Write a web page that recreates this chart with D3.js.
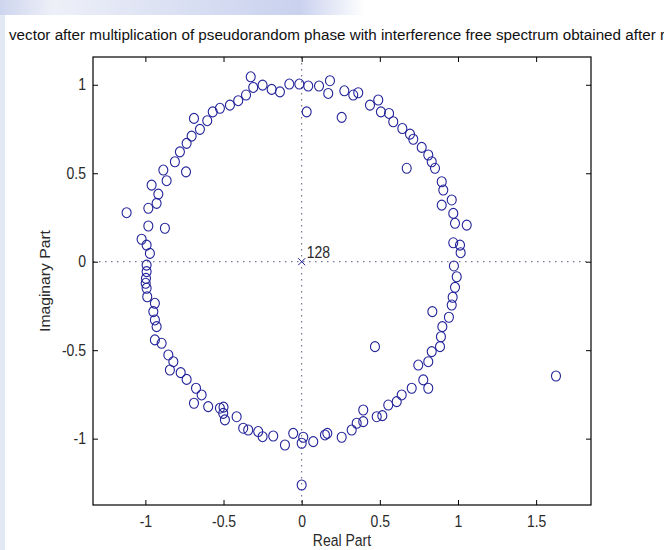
<!DOCTYPE html>
<html>
<head>
<meta charset="utf-8">
<script src="https://cdn.jsdelivr.net/npm/d3@7"></script>
<style>
  html, body { margin: 0; padding: 0; background: #fff; }
  svg { display: block; }
  text { font-family: "Liberation Sans", Arial, sans-serif; }
</style>
</head>
<body>
<svg id="chart" width="664" height="550"></svg>
<script>
// ---- data ----
const zerosRe = [
  -0.326,-0.310,-0.250,-0.192,-0.139,-0.079,-0.015,0.042,0.111,0.181,0.170,0.273,0.330,0.362,0.032,0.256,
  0.437,0.490,0.507,0.559,0.586,0.644,0.693,0.714,0.768,0.810,0.832,0.853,0.672,0.896,0.906,0.960,0.896,
  0.970,0.981,1.056,0.970,1.013,1.017,
  0.974,0.992,0.981,0.966,0.960,0.942,0.836,0.900,0.891,0.885,0.832,0.810,0.746,0.778,0.810,0.704,0.640,
  0.608,0.554,0.516,0.480,0.469,0.394,0.394,0.352,0.320,0.256,0.164,0.149,0.074,0.010,0.000,-0.054,-0.107,
  0.000,1.627,
  -0.182,-0.250,-0.278,-0.342,-0.374,-0.416,-0.491,-0.502,-0.523,-0.500,-0.598,-0.689,-0.640,-0.676,-0.736,
  -0.774,-0.843,-0.821,-0.853,-0.896,-0.939,-0.928,-0.939,-0.949,-0.939,-0.988,-0.992,-0.998,-0.996,-0.992,-0.992,
  -0.971,-0.992,-1.024,-0.981,-0.875,-1.120,-0.981,-0.928,-0.917,-0.960,-0.864,-0.885,-0.740,-0.811,-0.779,
  -0.736,-0.704,-0.651,-0.689,-0.604,-0.569,-0.523,-0.459,-0.406,-0.356
];
const zerosIm = [
  1.045,0.985,0.998,0.974,0.960,1.004,1.004,0.993,0.993,1.023,0.951,0.966,0.942,0.955,0.847,0.816,
  0.885,0.914,0.847,0.838,0.791,0.753,0.721,0.692,0.646,0.603,0.565,0.528,0.528,0.452,0.405,0.349,0.320,
  0.273,0.217,0.207,0.107,0.094,0.051,
  -0.024,-0.085,-0.145,-0.201,-0.245,-0.314,-0.282,-0.367,-0.424,-0.480,-0.508,-0.565,-0.584,-0.668,-0.715,-0.715,-0.753,
  -0.791,-0.810,-0.870,-0.876,-0.480,-0.838,-0.904,-0.913,-0.951,-0.992,-0.970,-0.979,-1.017,-0.992,-1.026,-0.970,-1.036,
  -1.262,-0.646,
  -0.985,-0.989,-0.960,-0.951,-0.941,-0.876,-0.894,-0.857,-0.828,-0.822,-0.819,-0.800,-0.753,-0.715,-0.665,
  -0.627,-0.612,-0.565,-0.527,-0.461,-0.442,-0.367,-0.329,-0.282,-0.235,-0.198,-0.150,-0.122,-0.094,-0.056,-0.019,
  0.047,0.094,0.127,0.202,0.189,0.277,0.302,0.330,0.382,0.433,0.458,0.518,0.508,0.565,0.621,
  0.669,0.710,0.748,0.810,0.797,0.847,0.867,0.885,0.910,0.942
];
const polesRe = [0];
const polesIm = [0];
const poleLabel = "128";
const xTicks = [-1, -0.5, 0, 0.5, 1, 1.5];
const yTicks = [-1, -0.5, 0, 0.5, 1];
const xDomain = [-1.335, 1.851];
const yDomain = [-1.375, 1.157];
const titleText = "vector after multiplication of pseudorandom phase with interference free spectrum obtained after r";
const xLabelText = "Real Part";
const yLabelText = "Imaginary Part";

// ---- layout ----
const W = 664, H = 550;
const L = 93, R = 591, T = 57, B = 505;
const SY = 1.12; // vertical stretch of the source image
const markerColor = "#23239a";
const textColor = "#2a2a2a";

const svg = d3.select("#chart");

// background artefacts of the source picture
const defs = svg.append("defs");
const grad = defs.append("linearGradient").attr("id", "band").attr("x1", 0).attr("x2", 1).attr("y1", 0).attr("y2", 0);
grad.append("stop").attr("offset", "0").attr("stop-color", "#cdd5ee");
grad.append("stop").attr("offset", "0.08").attr("stop-color", "#eef0f8");
grad.append("stop").attr("offset", "0.22").attr("stop-color", "#dfe4f4");
grad.append("stop").attr("offset", "0.45").attr("stop-color", "#c9d1ee");
grad.append("stop").attr("offset", "0.55").attr("stop-color", "#ffffff");
grad.append("stop").attr("offset", "1").attr("stop-color", "#ffffff");
svg.append("rect").attr("x", 0).attr("y", 0).attr("width", W).attr("height", 15).attr("fill", "url(#band)");
svg.append("rect").attr("x", 0).attr("y", 15).attr("width", 5).attr("height", H - 15).attr("fill", "#e3e8f5");

const x = d3.scaleLinear().domain(xDomain).range([L, R]);
const y = d3.scaleLinear().domain(yDomain).range([B, T]);
const fmt = d => String(d);

// dotted zero lines
const dotStyle = sel => sel.attr("stroke", "#55557a").attr("stroke-width", 1).attr("stroke-dasharray", "1.5,4.5");
svg.append("line").attr("x1", x(0)).attr("x2", x(0)).attr("y1", T).attr("y2", B).call(dotStyle);
svg.append("line").attr("x1", L).attr("x2", R).attr("y1", y(0)).attr("y2", y(0)).call(dotStyle);

// axes (ticks inward, box)
function styleAxis(g) {
  g.select(".domain").remove();
  g.selectAll(".tick line").attr("stroke", "#000").attr("stroke-width", 1);
  g.selectAll(".tick text").attr("fill", textColor).attr("font-size", 14);
}
const gx = svg.append("g").attr("transform", `translate(0,${B})`)
  .call(d3.axisBottom(x).tickValues(xTicks).tickFormat(fmt).tickSizeInner(-5).tickSizeOuter(0).tickPadding(10));
styleAxis(gx);
gx.selectAll(".tick text").attr("dy", null).attr("y", 0)
  .attr("transform", `translate(0,22) scale(1,${SY})`);
const gxt = svg.append("g").attr("transform", `translate(0,${T})`)
  .call(d3.axisTop(x).tickValues(xTicks).tickFormat("").tickSizeInner(-5).tickSizeOuter(0));
styleAxis(gxt);
const gy = svg.append("g").attr("transform", `translate(${L},0)`)
  .call(d3.axisLeft(y).tickValues(yTicks).tickFormat(fmt).tickSizeInner(-5).tickSizeOuter(0).tickPadding(8));
styleAxis(gy);
gy.selectAll(".tick text").attr("x", null).attr("dy", null)
  .attr("transform", `translate(-7,5) scale(1,${SY})`);
const gyr = svg.append("g").attr("transform", `translate(${R},0)`)
  .call(d3.axisRight(y).tickValues(yTicks).tickFormat("").tickSizeInner(-5).tickSizeOuter(0));
styleAxis(gyr);

svg.append("rect").attr("x", L).attr("y", T).attr("width", R - L).attr("height", B - T)
  .attr("fill", "none").attr("stroke", "#000").attr("stroke-width", 1.2);

// zeros (circles, slightly stretched like the source)
const zeros = zerosRe.map((re, i) => ({ re, im: zerosIm[i] }));
svg.append("g").selectAll("ellipse").data(zeros).join("ellipse")
  .attr("cx", d => x(d.re)).attr("cy", d => y(d.im)).attr("rx", 4.5).attr("ry", 5)
  .attr("fill", "none").attr("stroke", markerColor).attr("stroke-width", 1.1);

// poles (x markers)
const poles = polesRe.map((re, i) => ({ re, im: polesIm[i] }));
const s = 3.5;
const pg = svg.append("g").selectAll("g").data(poles).join("g")
  .attr("transform", d => `translate(${x(d.re)},${y(d.im)})`);
pg.append("path").attr("d", `M${-s},${-s}L${s},${s}M${-s},${s}L${s},${-s}`)
  .attr("stroke", markerColor).attr("stroke-width", 1).attr("fill", "none");
pg.append("text").text(poleLabel).attr("fill", textColor).attr("font-size", 14)
  .attr("transform", `translate(5,-4) scale(1,${SY})`);

// labels
svg.append("text").text(titleText).attr("fill", "#111").attr("font-size", 13)
  .attr("textLength", 656).attr("lengthAdjust", "spacingAndGlyphs")
  .attr("transform", `translate(9,40) scale(1,${SY})`);
svg.append("text").text(xLabelText).attr("fill", textColor).attr("font-size", 14)
  .attr("text-anchor", "middle")
  .attr("transform", `translate(${(L + R) / 2},546) scale(1,${SY})`);
svg.append("text").text(yLabelText).attr("fill", textColor).attr("font-size", 14)
  .attr("text-anchor", "middle")
  .attr("transform", `translate(50,${(T + B) / 2}) scale(1,${SY}) rotate(-90)`);
</script>
</body>
</html>
